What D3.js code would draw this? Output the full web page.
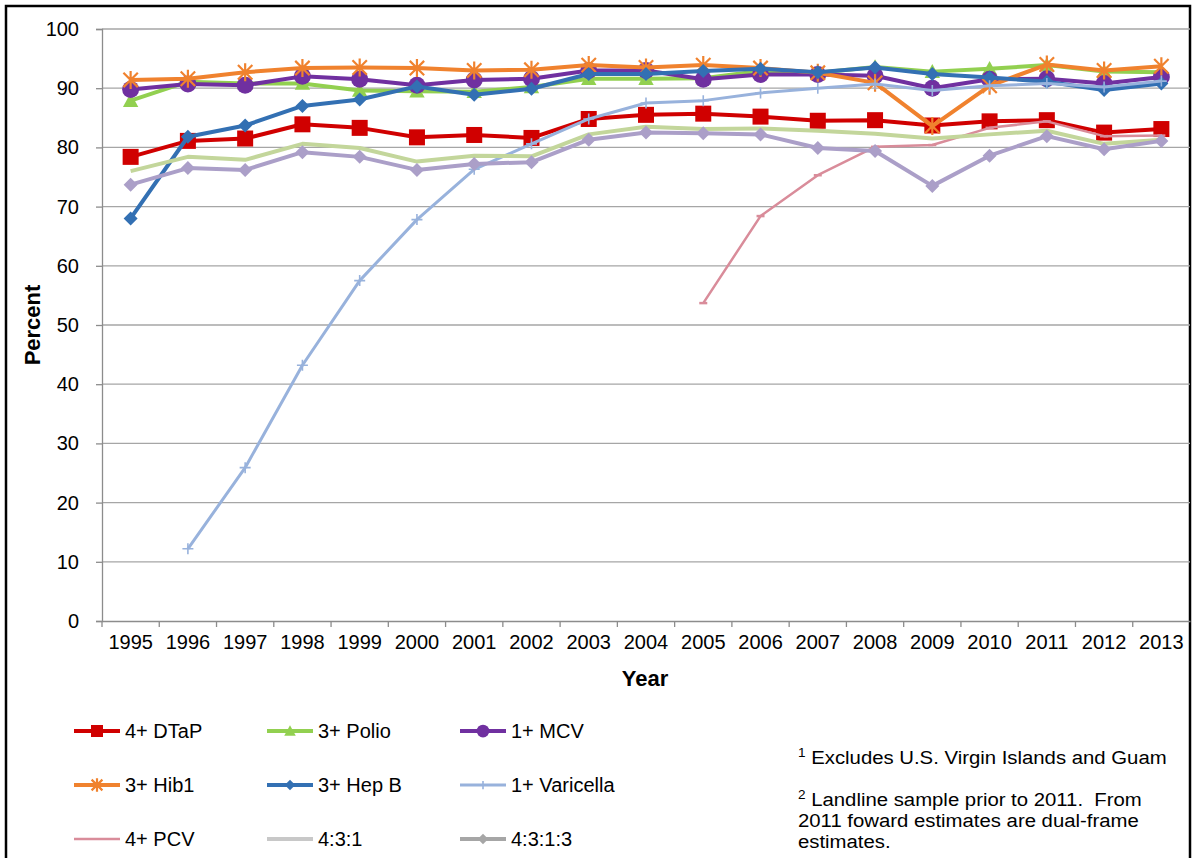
<!DOCTYPE html>
<html>
<head>
<meta charset="utf-8">
<script src="https://cdn.jsdelivr.net/npm/d3@7"></script>
<style>
body { margin: 0; background: #fff; }
text { font-family: Arial, "Liberation Sans", sans-serif; fill: #000; }
</style>
</head>
<body>
<div id="chart"></div>
<script>
var width = 1195, height = 858;

// categories
var years = ["1995", "1996", "1997", "1998", "1999", "2000", "2001", "2002", "2003", "2004",
  "2005", "2006", "2007", "2008", "2009", "2010", "2011", "2012", "2013"];
var yTicks = [0, 10, 20, 30, 40, 50, 60, 70, 80, 90, 100];

// series values (percent), null = not surveyed
var dtap      = [78.4, 81.1, 81.5, 83.9, 83.3, 81.7, 82.1, 81.6, 84.8, 85.5, 85.7, 85.2, 84.5, 84.6, 83.7, 84.4, 84.6, 82.5, 83.1];
var polio     = [87.9, 91.1, 90.8, 90.8, 89.6, 89.5, 89.4, 90.2, 91.6, 91.6, 91.7, 92.9, 92.6, 93.6, 92.8, 93.3, 93.9, 92.8, 92.7];
var mcv       = [89.8, 90.7, 90.5, 92.0, 91.5, 90.5, 91.4, 91.6, 93.0, 93.0, 91.5, 92.3, 92.3, 92.1, 90.0, 91.5, 91.6, 90.8, 91.9];
var hib       = [91.4, 91.6, 92.7, 93.4, 93.5, 93.4, 93.0, 93.1, 93.9, 93.5, 93.9, 93.4, 92.6, 90.9, 83.6, 90.4, 94.0, 93.0, 93.7];
var hepb      = [68.0, 81.8, 83.7, 87.0, 88.1, 90.3, 88.9, 89.9, 92.4, 92.4, 92.9, 93.3, 92.7, 93.5, 92.4, 91.8, 91.1, 89.7, 90.8];
var varicella = [null, 12.2, 25.9, 43.2, 57.5, 67.8, 76.3, 80.6, 84.8, 87.5, 87.9, 89.2, 90.0, 90.7, 89.6, 90.4, 90.8, 90.2, 91.2];
var pcv       = [null, null, null, null, null, null, null, null, null, null, 53.7, 68.4, 75.3, 80.1, 80.4, 83.3, 84.4, 81.9, 82.0];
var s431      = [76.0, 78.4, 77.9, 80.6, 79.9, 77.6, 78.6, 78.5, 82.2, 83.5, 83.1, 83.2, 82.8, 82.3, 81.5, 82.2, 82.8, 80.6, 81.3];
var s4313     = [73.7, 76.5, 76.2, 79.2, 78.4, 76.2, 77.2, 77.5, 81.3, 82.5, 82.4, 82.2, 79.9, 79.4, 73.5, 78.6, 81.9, 79.7, 81.1];

var seriesNames = ["4+ DTaP", "3+ Polio", "1+ MCV", "3+ Hib1", "3+ Hep B", "1+ Varicella", "4+ PCV", "4:3:1", "4:3:1:3"];
var seriesValues = [dtap, polio, mcv, hib, hepb, varicella, pcv, s431, s4313];
var seriesColors = ["#d00000", "#92d050", "#7030a0", "#f0822e", "#3370b3", "#98b2dc", "#d98c9a", "#c3d69b", "#ab9fc8"];
var legendColors = ["#d00000", "#92d050", "#7030a0", "#f0822e", "#3370b3", "#98b2dc", "#d98c9a", "#c8c8c8", "#a6a6a6"];
var seriesMarkers = ["square", "triangle", "circle", "asterisk", "diamond", "plus", "dash", "none", "diamond"];
var seriesWidths = [4, 4, 4, 4, 4, 3, 2.5, 4, 4];

var footnotes = [
  ["1", "Excludes U.S. Virgin Islands and Guam"],
  ["2", "Landline sample prior to 2011.\u00a0 From"],
  ["", "2011 foward estimates are dual-frame"],
  ["", "estimates."]
];

var svg = d3.select("#chart").append("svg")
  .attr("width", width)
  .attr("height", height);

svg.append("rect")
  .attr("width", width).attr("height", height)
  .attr("fill", "#fff");

// outer frame
svg.append("rect")
  .attr("x", 6).attr("y", 6)
  .attr("width", 1184).attr("height", 870)
  .attr("fill", "none")
  .attr("stroke", "#000")
  .attr("stroke-width", 2.5);

var x = d3.scaleBand().domain(years).range([102, 1190]);
var y = d3.scaleLinear().domain([0, 100]).range([621, 29]);

// gridlines
svg.append("g")
  .selectAll("line")
  .data(yTicks.filter(function(d) { return d > 0; }))
  .enter().append("line")
  .attr("x1", 102).attr("x2", 1190)
  .attr("y1", function(d) { return y(d); })
  .attr("y2", function(d) { return y(d); })
  .attr("stroke", "#a6a6a6")
  .attr("stroke-width", 1.3);

// y axis
var yAxis = svg.append("g")
  .attr("transform", "translate(102,0)")
  .call(d3.axisLeft(y).tickValues(yTicks).tickSize(6).tickPadding(17));
yAxis.select(".domain").attr("stroke", "#8c8c8c").attr("stroke-width", 1.3);
yAxis.selectAll(".tick line").attr("stroke", "#8c8c8c").attr("stroke-width", 1.3);
yAxis.selectAll("text")
  .style("font-size", "20px")
  .style("font-family", "Arial, 'Liberation Sans', sans-serif")
  .attr("fill", "#000");

// x axis
var xAxis = svg.append("g")
  .attr("transform", "translate(0,621)")
  .call(d3.axisBottom(x).tickSize(0).tickPadding(14));
xAxis.select(".domain").attr("stroke", "#8c8c8c").attr("stroke-width", 1.3);
xAxis.selectAll("text")
  .style("font-size", "20px")
  .style("font-family", "Arial, 'Liberation Sans', sans-serif")
  .attr("fill", "#000");

// category boundary ticks
svg.append("g")
  .selectAll("line")
  .data(years)
  .enter().append("line")
  .attr("x1", function(d) { return x(d); })
  .attr("x2", function(d) { return x(d); })
  .attr("y1", 621).attr("y2", 627)
  .attr("stroke", "#8c8c8c")
  .attr("stroke-width", 1.3);

// axis titles
svg.append("text")
  .attr("transform", "translate(40," + y(50) + ") rotate(-90)")
  .attr("text-anchor", "middle")
  .style("font-size", "22px")
  .style("font-weight", "bold")
  .text("Percent");

svg.append("text")
  .attr("x", 645).attr("y", 686)
  .attr("text-anchor", "middle")
  .style("font-size", "22px")
  .style("font-weight", "bold")
  .text("Year");

function drawMarker(g, type, color, size) {
  var s = size;
  if (type === "square") {
    g.append("rect").attr("x", -s / 2).attr("y", -s / 2).attr("width", s).attr("height", s).attr("fill", color);
  } else if (type === "triangle") {
    g.append("path").attr("d", "M0," + (-s * 0.55) + "L" + (s * 0.55) + "," + (s * 0.45) + "L" + (-s * 0.55) + "," + (s * 0.45) + "Z").attr("fill", color);
  } else if (type === "circle") {
    g.append("circle").attr("r", s / 2).attr("fill", color);
  } else if (type === "diamond") {
    g.append("path").attr("d", "M0," + (-s / 2) + "L" + (s / 2) + ",0L0," + (s / 2) + "L" + (-s / 2) + ",0Z").attr("fill", color);
  } else if (type === "asterisk") {
    var r = s / 2;
    g.append("path")
      .attr("d", "M0," + (-r) + "V" + r + "M" + (-r * 0.8) + "," + (-r * 0.8) + "L" + (r * 0.8) + "," + (r * 0.8) +
        "M" + (r * 0.8) + "," + (-r * 0.8) + "L" + (-r * 0.8) + "," + (r * 0.8))
      .attr("stroke", color).attr("stroke-width", 2.2).attr("fill", "none");
  } else if (type === "plus") {
    var p = s / 2;
    g.append("path")
      .attr("d", "M" + (-p) + ",0H" + p + "M0," + (-p) + "V" + p)
      .attr("stroke", color).attr("stroke-width", 1.6).attr("fill", "none");
  } else if (type === "dash") {
    g.append("path")
      .attr("d", "M" + (-s / 2) + ",0H" + (s / 2))
      .attr("stroke", color).attr("stroke-width", 2.5).attr("fill", "none");
  }
}

var markerSizes = { square: 16, triangle: 14, circle: 17, diamond: 14, asterisk: 18, plus: 11, dash: 8 };

var line = d3.line()
  .defined(function(d) { return d != null; })
  .x(function(d, i) { return x(years[i]) + x.bandwidth() / 2; })
  .y(function(d) { return y(d); });

var plot = svg.append("g");
seriesValues.forEach(function(vals, k) {
  var g = plot.append("g");
  g.append("path")
    .datum(vals)
    .attr("d", line)
    .attr("fill", "none")
    .attr("stroke", seriesColors[k])
    .attr("stroke-width", seriesWidths[k])
    .attr("stroke-linejoin", "round");
  if (seriesMarkers[k] !== "none") {
    vals.forEach(function(v, i) {
      if (v == null) return;
      var m = g.append("g")
        .attr("transform", "translate(" + (x(years[i]) + x.bandwidth() / 2) + "," + y(v) + ")");
      drawMarker(m, seriesMarkers[k], seriesColors[k], markerSizes[seriesMarkers[k]]);
    });
  }
});

// legend
var legendCols = [74, 267, 460];
var legendRows = [731, 785, 839];
var legend = svg.append("g");
seriesNames.forEach(function(name, k) {
  var lx = legendCols[k % 3], ly = legendRows[Math.floor(k / 3)];
  var g = legend.append("g").attr("transform", "translate(" + lx + "," + ly + ")");
  g.append("line")
    .attr("x1", 0).attr("x2", 46)
    .attr("stroke", legendColors[k])
    .attr("stroke-width", seriesWidths[k]);
  if (seriesMarkers[k] !== "none" && seriesMarkers[k] !== "dash") {
    var m = g.append("g").attr("transform", "translate(23,0)");
    drawMarker(m, seriesMarkers[k], legendColors[k], markerSizes[seriesMarkers[k]] * 0.75);
  }
  g.append("text")
    .attr("x", 51).attr("y", 7)
    .style("font-size", "20px")
    .text(name);
});

// footnotes (slightly widened to match the reference's stretched lettering)
var noteY = [764, 806, 827, 848];
var notes = svg.append("g").style("font-size", "18px");
footnotes.forEach(function(f, i) {
  var t = notes.append("text")
    .attr("transform", "translate(798," + noteY[i] + ") scale(1.13,1)");
  if (f[0]) {
    t.append("tspan").attr("dy", -7).style("font-size", "12px").text(f[0]);
    t.append("tspan").attr("dy", 7).text("\u00a0" + f[1]);
  } else {
    t.text(f[1]);
  }
});
</script>
</body>
</html>
